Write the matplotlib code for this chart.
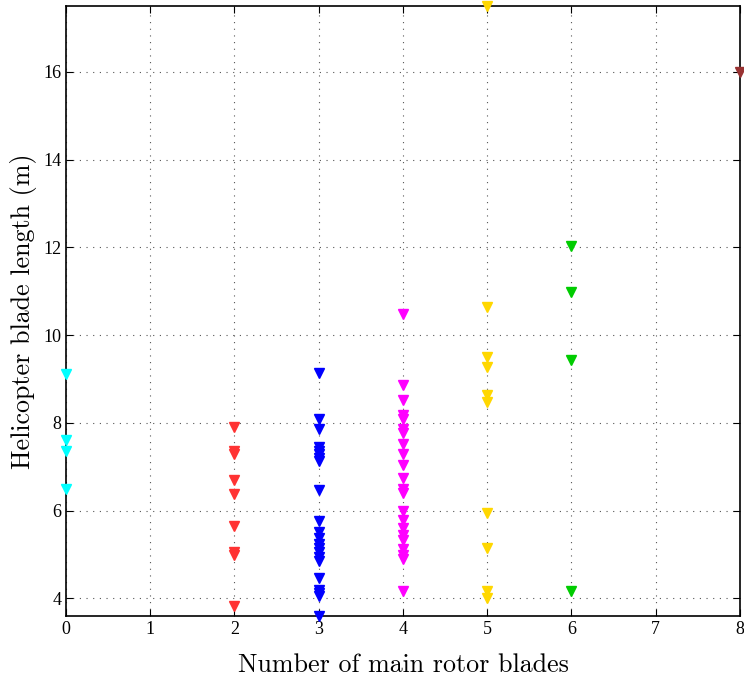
import numpy as np
import matplotlib
matplotlib.use("Agg")
import matplotlib.pyplot as plt

# blade length (m) grouped by number of main rotor blades
blades = [0, 2, 3, 4, 5, 6, 8]
lengths = {
    0: [9.12, 7.6, 7.35, 6.5],
    2: [7.91, 7.35, 7.3, 6.69, 6.38, 5.65, 5.05, 5.0, 3.82],
    3: [9.14, 8.09, 7.85, 7.44, 7.35, 7.28, 7.2, 7.13, 6.48, 5.76, 5.51, 5.38,
        5.25, 5.15, 5.05, 4.95, 4.85, 4.47, 4.2, 4.12, 4.05, 3.6],
    4: [10.49, 8.87, 8.53, 8.19, 8.08, 7.85, 7.76, 7.51, 7.3, 7.03, 6.75, 6.5,
        6.4, 5.99, 5.78, 5.6, 5.45, 5.33, 5.12, 5.0, 4.9, 4.17],
    5: [17.5, 10.63, 9.5, 9.28, 8.63, 8.48, 5.94, 5.14, 4.16, 4.0],
    6: [12.03, 10.98, 9.44, 4.17],
    8: [16.0],
}
colors = {0: "#00ffff", 2: "#ff3333", 3: "#0000ff", 4: "#ff00ff",
          5: "#ffd700", 6: "#00cc00", 8: "#993333"}

fig = plt.figure(figsize=(7.44, 6.79), dpi=100)
ax = fig.add_axes([0.0887, 0.0928, 0.9059, 0.8984])

for b in blades:
    y = lengths[b]
    ax.plot([b] * len(y), y, linestyle="none", marker="v", markersize=7,
            color=colors[b], markeredgecolor=colors[b], clip_on=False, zorder=3)

ax.set_xlim(0, 8)
ax.set_ylim(3.6, 17.5)
ax.set_xticks(range(0, 9))
ax.set_yticks(range(4, 17, 2))
ax.grid(True, linestyle=(0, (1, 5)), color="#555555", linewidth=0.8)
ax.tick_params(direction="in", top=True, right=True, length=5, labelsize=13)
for lab in ax.get_xticklabels() + ax.get_yticklabels():
    lab.set_family("Liberation Serif")
for s in ax.spines.values():
    s.set_linewidth(1.2)

ax.set_xlabel("Number of main rotor blades", family="cmr10", fontsize=18.7, labelpad=11)
ax.set_ylabel("Helicopter blade length (m)", family="cmr10", fontsize=18.7, labelpad=4)

fig.savefig("out.png", dpi=100)
